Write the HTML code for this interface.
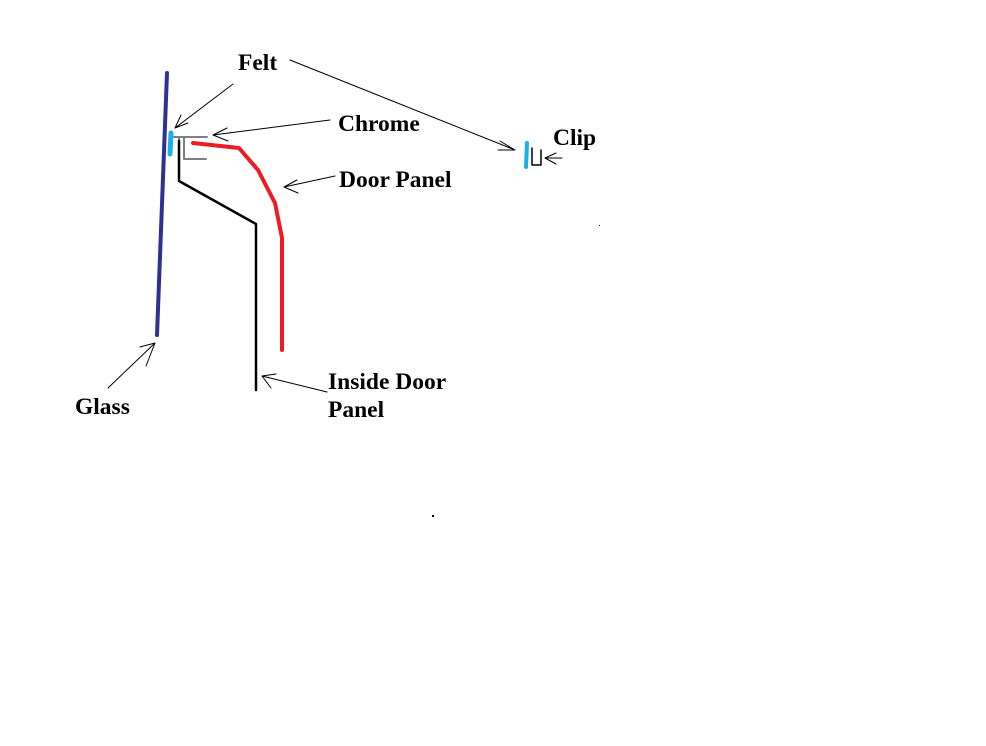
<!DOCTYPE html>
<html><head><style>body{margin:0;background:#fff}svg{display:block}text{font-family:"Liberation Serif",serif;font-weight:bold;font-size:23.5px;fill:#000}</style></head>
<body>
<svg width="986" height="746" xmlns="http://www.w3.org/2000/svg">
<g fill="none" stroke-linecap="round" stroke-linejoin="round">
<line x1="167" y1="73" x2="157" y2="335" stroke="#2e3192" stroke-width="4"/>
<line x1="171" y1="133" x2="170" y2="154" stroke="#1ab0e8" stroke-width="5"/>
<path d="M174 137 H207 M184 137 V159 H206 M179 138 V146" stroke="#7f7f7f" stroke-width="2"/>
<path d="M179 141 V181 L256 224 V390" stroke="#000" stroke-width="2.5"/>
<path d="M193 143 L239 148 L258 170 L275 203 L282 238 V350" stroke="#ed1c24" stroke-width="4"/>
<g stroke="#000" stroke-width="1">
<path d="M233 84 L175 128 M175 128 L181 115 M175 128 L188 123"/>
<path d="M330 120 L213 135 M213 135 L227 128 M213 135 L228 141"/>
<path d="M335 176 L284 187 M284 187 L297 180 M284 187 L298 193"/>
<path d="M327 392 L262 376 M262 376 L271 388 M262 376 L276 374"/>
<path d="M108 388 L155 343 M155 343 L140 347 M155 343 L146 366"/>
<path d="M290 60 L515 150 M515 150 L500 141 M515 150 L498 150"/>
<path d="M562 158 L545 158 M545 158 L556 153 M545 158 L556 164"/>
</g>
<line x1="527" y1="143" x2="526" y2="167" stroke="#1ab0e8" stroke-width="4"/>
<path d="M532 148 V165 H541 V150" stroke="#000" stroke-width="1.5"/>
</g>
<rect x="599" y="225" width="1" height="1" fill="#000"/>
<rect x="432" y="515" width="2" height="2" fill="#000"/>
<text x="238" y="70">Felt</text>
<text x="338" y="131">Chrome</text>
<text x="339" y="187">Door Panel</text>
<text x="553" y="145">Clip</text>
<text x="328" y="389">Inside Door</text>
<text x="328" y="417">Panel</text>
<text x="75" y="414">Glass</text>
</svg>
</body></html>
